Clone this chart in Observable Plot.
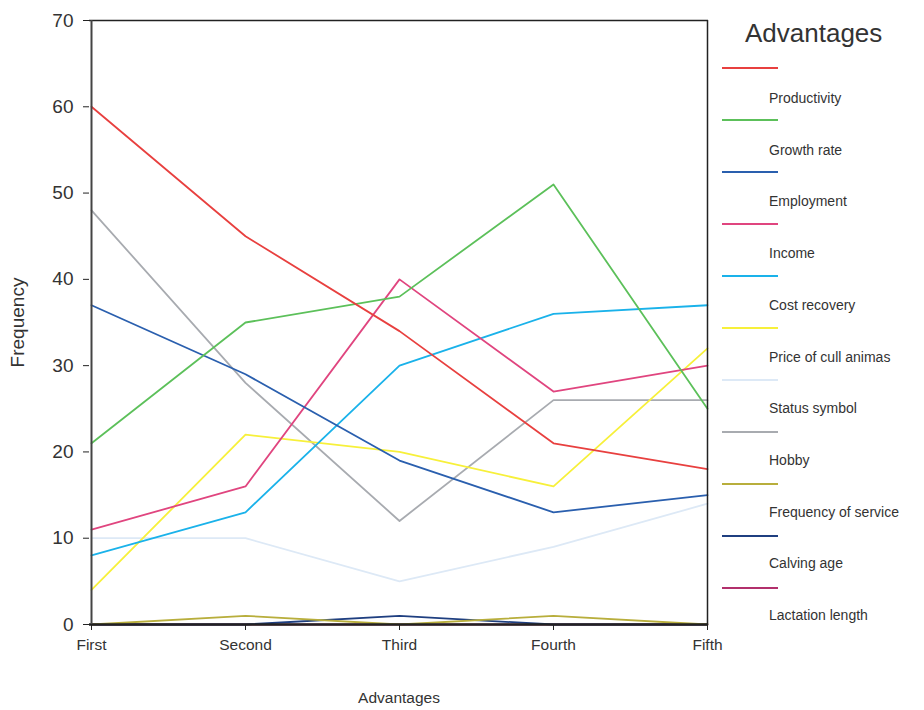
<!DOCTYPE html>
<html>
<head>
<meta charset="utf-8">
<script src="https://cdn.jsdelivr.net/npm/d3@7"></script>
<script src="https://cdn.jsdelivr.net/npm/@observablehq/plot@0.6"></script>
<style>
  html, body { margin: 0; padding: 0; background: #fff; }
  #wrap { position: relative; width: 924px; height: 710px; font-family: "Liberation Sans", Arial, sans-serif; color: #333; }
  #legend { position: absolute; left: 0; top: 0; width: 924px; height: 710px; pointer-events: none; }
  .lg-title { position: absolute; left: 745px; top: 18px; font-size: 26px; color: #333; }
  .lg-sw { position: absolute; left: 722px; width: 56px; height: 0; border-top: 2px solid; }
  .lg-lab { position: absolute; left: 769px; font-size: 14px; color: #333; line-height: 16px; }
</style>
</head>
<body>
<div id="wrap"><div id="legend"></div></div>
<script>
const categories = ["First", "Second", "Third", "Fourth", "Fifth"];
const seriesNames = ["Productivity", "Growth rate", "Employment", "Income", "Cost recovery",
  "Price of cull animas", "Status symbol", "Hobby", "Frequency of service", "Calving age", "Lactation length"];
const seriesColors = ["#e8403f", "#5cc05a", "#2a5fae", "#e0457f", "#1ab2ea",
  "#f7f03a", "#dde9f6", "#a8abb0", "#b8ae3c", "#1f3f80", "#b2306c"];
const productivity = [60, 45, 34, 21, 18];
const growthRate = [21, 35, 38, 51, 25];
const employment = [37, 29, 19, 13, 15];
const income = [11, 16, 40, 27, 30];
const costRecovery = [8, 13, 30, 36, 37];
const priceOfCull = [4, 22, 20, 16, 32];
const statusSymbol = [10, 10, 5, 9, 14];
const hobby = [48, 28, 12, 26, 26];
const frequencyOfService = [0, 1, 0, 1, 0];
const calvingAge = [0, 0, 1, 0, 0];
const lactationLength = [0, 0, 0, 0, 0];
const yTicks = [0, 10, 20, 30, 40, 50, 60, 70];

const seriesValues = [productivity, growthRate, employment, income, costRecovery,
  priceOfCull, statusSymbol, hobby, frequencyOfService, calvingAge, lactationLength];
// draw order: lactation first (beneath), others on top
const rows = [];
const drawOrder = [10, 9, 8, 6, 7, 5, 4, 3, 2, 1, 0];
drawOrder.forEach(i => {
  categories.forEach((c, j) => rows.push({series: seriesNames[i], cat: c, value: seriesValues[i][j]}));
});

const chart = Plot.plot({
  width: 924,
  height: 710,
  marginLeft: 89,
  marginRight: 216,
  marginTop: 20,
  marginBottom: 86,
  style: {fontFamily: "'Liberation Sans', Arial, sans-serif", color: "#333", background: "#fff"},
  x: {type: "point", domain: categories, padding: 0},
  y: {domain: [0, 70]},
  color: {domain: seriesNames, range: seriesColors},
  marks: [
    Plot.line(rows, {x: "cat", y: "value", z: "series", stroke: "series", strokeWidth: 1.8}),
    Plot.ruleX([categories[categories.length - 1]], {stroke: "#222", strokeWidth: 1.5}),
    Plot.ruleY([70], {stroke: "#222", strokeWidth: 1.5}),
    Plot.ruleY([0], {stroke: "#222", strokeWidth: 2.5}),
    Plot.ruleX([categories[0]], {stroke: "#444", strokeWidth: 2}),
    Plot.axisY({ticks: yTicks, tickSize: 6, tickPadding: 10, fontSize: 19, stroke: "#222",
      label: "Frequency", labelAnchor: "center", labelArrow: "none", labelOffset: 79}),
    Plot.axisX({tickSize: 6, tickPadding: 8, fontSize: 15.5, stroke: "#222",
      label: "Advantages", labelAnchor: "center", labelArrow: "none", labelOffset: 78})
  ]
});
chart.style.fontSize = "15.5px";
document.getElementById("wrap").prepend(chart);

const legend = document.getElementById("legend");
const t = document.createElement("div");
t.className = "lg-title"; t.textContent = "Advantages";
legend.appendChild(t);
seriesNames.forEach((name, i) => {
  const sw = document.createElement("div");
  sw.className = "lg-sw";
  sw.style.top = (67 + i * 52) + "px";
  sw.style.borderTopColor = seriesColors[i];
  legend.appendChild(sw);
  const lb = document.createElement("div");
  lb.className = "lg-lab";
  lb.style.top = (90 + i * 51.7) + "px";
  lb.textContent = name;
  legend.appendChild(lb);
});
</script>
</body>
</html>
